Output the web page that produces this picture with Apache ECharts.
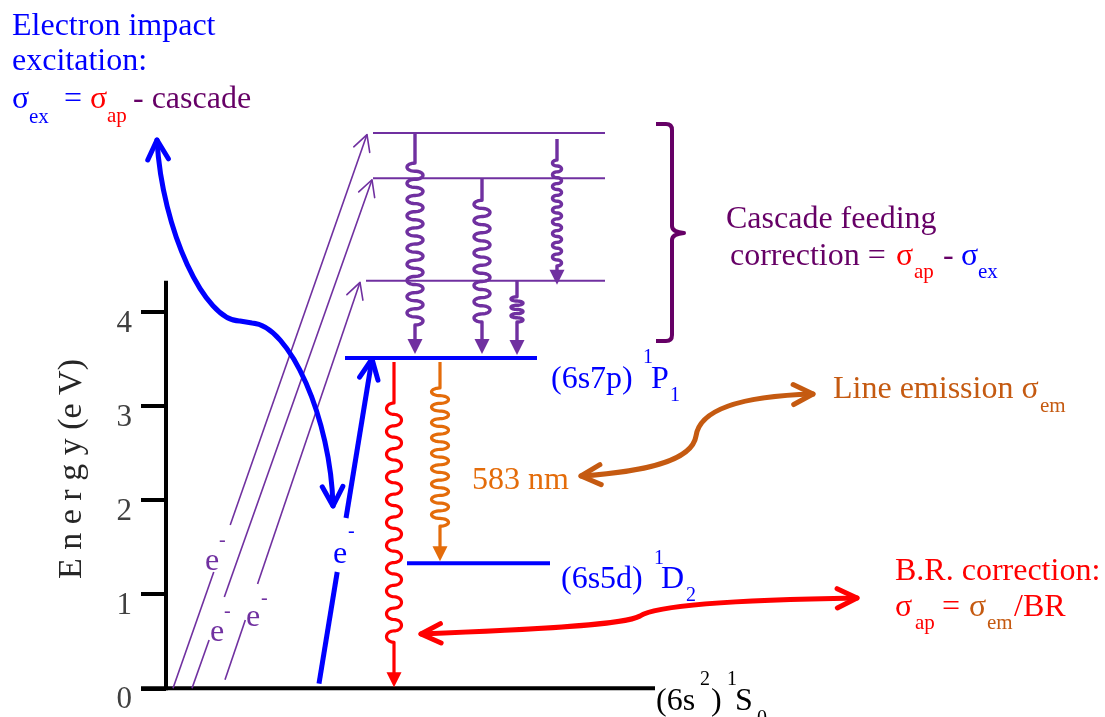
<!DOCTYPE html>
<html><head><meta charset="utf-8">
<script src="https://cdn.jsdelivr.net/npm/echarts@6/dist/echarts.min.js"></script>
<style>html,body{margin:0;padding:0;background:#fff}#c{width:1105px;height:717px}</style>
</head><body><div id="c"></div>
<script>
// ---------------- data ----------------
const yTickValues = [0, 1, 2, 3, 4];
const levelNames = ['(6s2) 1S0', '(6s5d) 1D2', '(6s7p) 1P1', 'upper C', 'upper B', 'upper A'];
const levelEnergies = [0, 1.33, 3.51, 4.33, 5.42, 5.90];
const axisTopEnergy = 4.33;
// cascade feeding transitions (level index from -> to)
const cascadeFrom = [5, 4, 3, 5];
const cascadeTo = [2, 2, 2, 3];
// line emission from (6s7p)1P1
const emissionFrom = [2, 2];
const emissionTo = [0, 1];
// electron impact excitations (target level), start energy of each arrow
const impactTo = [5, 4, 3, 2];
const impactStartE = [0, 0, 0.09, 0.05];

// ---------------- layout / style ----------------
const SERIF = '"Liberation Serif","Times New Roman",serif';
const PURPLE = '#7030A0', DPURPLE = '#660066', BLUE = '#0000FF', RED = '#FF0000', ORANGE = '#E46C0A', DORANGE = '#C55A11';
const FS = 32, SS = 21;
const levelX = [[141, 655], [407, 550], [345, 537], [366, 605], [373, 605], [373, 605]];
const levelStyle = [{c: '#000', w: 4}, {c: BLUE, w: 4}, {c: BLUE, w: 4}, {c: PURPLE, w: 2}, {c: PURPLE, w: 2}, {c: PURPLE, w: 2}];
const cascadeLayout = [
  {x: 415, gap0: 0, s1: 30, s2: 29, tipGap: 4, amp: 8, per: 16.5},
  {x: 482, gap0: 0, s1: 22, s2: 32, tipGap: 4, amp: 8, per: 16},
  {x: 517, gap0: 0, s1: 16, s2: 33, tipGap: 3, amp: 6, per: 9},
  {x: 557, gap0: 6, s1: 21, s2: 19, tipGap: -4, amp: 4.5, per: 11.5}
];
const emissionLayout = [
  {x: 394, gap0: 4, s1: 41, s2: 45, tipGap: 1, amp: 7.5, per: 23, c: RED},
  {x: 440, gap0: 4, s1: 26, s2: 35, tipGap: 2, amp: 8.5, per: 15.5, c: ORANGE}
];
const impactLayout = [
  {bx: 173, tx: 367, gap: [572, 525], c: PURPLE, w: 1.6, head: 18, ang: 28, tipOff: 1.5},
  {bx: 192, tx: 372, gap: [640, 597], c: PURPLE, w: 1.6, head: 18, ang: 28, tipOff: 1.5},
  {bx: 225, tx: 360, gap: [620, 584], c: PURPLE, w: 1.6, head: 18, ang: 28, tipOff: 1.5},
  {bx: 319, tx: 372, gap: [572, 518], c: BLUE, w: 5, head: 22, ang: 25, tipOff: 1}
];

function vHead(tip, from, len, angDeg) {
  const dx = from[0] - tip[0], dy = from[1] - tip[1];
  const d = Math.hypot(dx, dy) || 1;
  const ux = dx / d, uy = dy / d;
  const a = angDeg * Math.PI / 180;
  const r = (s) => [tip[0] + len * (ux * Math.cos(s * a) - uy * Math.sin(s * a)),
                    tip[1] + len * (ux * Math.sin(s * a) + uy * Math.cos(s * a))];
  return [r(1), tip, r(-1)];
}

// wavy (photon) arrow: alternating half-ellipse loops
function waveGroup(x, yFrom, yTip, cfg, color, width) {
  const y0 = yFrom + cfg.gap0;
  const y1 = yTip;
  const ah = 15, hw = 7.5;
  const ws = y0 + cfg.s1, we = y1 - cfg.s2;
  const L = we - ws;
  const k = Math.max(1, Math.round(2 * L / cfg.per));
  const h = L / k;
  const pts = [[x, y0], [x, ws]];
  for (let j = 0; j < k; j++) {
    const s = (j % 2 === 0) ? -1 : 1;
    const yc = ws + h * (j + 0.5);
    for (let i = 1; i <= 16; i++) {
      const th = Math.PI * i / 16;
      pts.push([x + s * cfg.amp * Math.sin(th), yc - (h / 2) * Math.cos(th)]);
    }
  }
  pts.push([x, y1 - ah + 1]);
  return {
    type: 'group', children: [
      {type: 'polyline', shape: {points: pts}, style: {stroke: color, lineWidth: width, fill: null, lineJoin: 'round'}},
      {type: 'polygon', shape: {points: [[x - hw, y1 - ah], [x + hw, y1 - ah], [x, y1]]}, style: {fill: color}}
    ]
  };
}

const levelData = levelEnergies.map((e, i) => [levelX[i][0], levelX[i][1], e, i]);
const cascadeData = cascadeFrom.map((f, i) => [cascadeLayout[i].x, levelEnergies[f], levelEnergies[cascadeTo[i]], i]);
const emissionData = emissionFrom.map((f, i) => [emissionLayout[i].x, levelEnergies[f], levelEnergies[emissionTo[i]], i]);
const impactData = impactTo.map((t, i) => [impactLayout[i].bx, impactStartE[i], impactLayout[i].tx, levelEnergies[t], i]);

// ---------------- annotations (texts) ----------------
function T(text, x, baseline, size, color) {
  return {type: 'text', x: x, y: baseline - 0.3375 * size, silent: true, z: 100,
    style: {text: text, font: size + 'px ' + SERIF, fill: color, align: 'left', verticalAlign: 'middle',
      textAlign: 'left', textVerticalAlign: 'middle'}};
}
const texts = [
  T('Electron impact', 12, 37, FS, BLUE),
  T('excitation:', 12, 72, FS, BLUE),
  T('σ', 12, 110, FS, BLUE), T('ex', 29, 125, SS, BLUE), T('=', 64, 110, FS, BLUE),
  T('σ', 90, 110, FS, RED), T('ap', 107, 124, SS, RED), T('- cascade', 133, 110, FS, DPURPLE),

  T('Cascade feeding', 726, 230, FS, DPURPLE),
  T('correction =', 730, 267, FS, DPURPLE),
  T('σ', 896, 267, FS, RED), T('ap', 914, 280, SS, RED), T('-', 943, 267, FS, DPURPLE),
  T('σ', 961, 267, FS, BLUE), T('ex', 978, 280, SS, BLUE),

  T('(6s7p)', 551, 390, FS, BLUE), T('1', 643, 364, 20, BLUE), T('P', 651, 390, FS, BLUE), T('1', 670, 402, 20, BLUE),
  T('(6s5d)', 561, 590, FS, BLUE), T('1', 654, 565, 20, BLUE), T('D', 661, 590, FS, BLUE), T('2', 686, 602, 20, BLUE),
  T('(6s', 656, 712, FS, '#000'), T('2', 700, 686, 20, '#000'), T(')', 711, 712, FS, '#000'),
  T('1', 727, 686, 20, '#000'), T('S', 735, 712, FS, '#000'), T('0', 757, 725, 20, '#000'),

  T('583 nm', 472, 491, FS, ORANGE),
  T('Line emission σ', 833, 400, FS, DORANGE), T('em', 1040, 414, SS, DORANGE),

  T('B.R. correction:', 895, 582, FS, RED),
  T('σ', 895, 618, FS, RED), T('ap', 915, 631, SS, RED), T('=', 942, 618, FS, RED),
  T('σ', 969, 618, FS, DORANGE), T('em', 987, 631, SS, DORANGE), T('/BR', 1014, 618, FS, RED),

  T('e', 205, 572, FS, PURPLE), T('-', 219, 547, 20, PURPLE),
  T('e', 210, 643, FS, PURPLE), T('-', 224, 618, 20, PURPLE),
  T('e', 246, 628, FS, PURPLE), T('-', 261, 605, 20, PURPLE),
  T('e', 333, 565, FS, BLUE), T('-', 348, 538, 20, BLUE),
  {type: 'text', x: 72, y: 469, rotation: Math.PI / 2, silent: true,
    style: {text: 'E n e r g y (e V)', font: '34px ' + SERIF, fill: '#262626', align: 'center', verticalAlign: 'middle',
      textAlign: 'center', textVerticalAlign: 'middle'}}
];

// curved annotation arrows (pixel layout), drawn by a custom series
function curveArrow(d, startTip, startCtl, endTip, endCtl, color, w, len, ang) {
  const st = {stroke: color, lineWidth: w, fill: null, lineCap: 'round', lineJoin: 'round'};
  return [
    {type: 'path', shape: {pathData: d}, style: st},
    {type: 'polyline', shape: {points: vHead(startTip, startCtl, len, ang)}, style: st},
    {type: 'polyline', shape: {points: vHead(endTip, endCtl, len, ang)}, style: st}
  ];
}
const annotationShapes = [].concat(
  curveArrow('M157,140 C162,230 205,322 240,321 L252,323 C290,325 331,420 333,506', [157, 140], [162, 230], [333, 506], [331, 420], BLUE, 5, 22, 28),
  curveArrow('M581,476 C640,472 692,462 696,436 C700,408 745,396 813,394', [581, 476], [640, 472], [813, 394], [745, 396], DORANGE, 5, 22, 27),
  curveArrow('M421,634 C530,630 625,625 640,616 C655,606 720,600 857,598', [421, 634], [530, 630], [857, 598], [720, 600], RED, 5, 22, 26),
  [{type: 'path', shape: {pathData: 'M656,124 L666,124 Q672,124 672,130 L672,226 Q672,232 684,233 Q672,234 672,240 L672,335 Q672,341 666,341 L656,341'},
    style: {stroke: DPURPLE, lineWidth: 4, fill: null, lineJoin: 'round'}}]
);

const chart = echarts.init(document.getElementById('c'), null, {renderer: 'canvas'});
chart.setOption({
  animation: false,
  backgroundColor: '#fff',
  grid: {left: 166, right: 0, top: 123.7, bottom: 28.7, containLabel: false, outerBoundsMode: 'none'},
  xAxis: {type: 'value', min: 166, max: 1105, show: false},
  yAxis: {
    type: 'value', min: 0, max: 6,
    axisLine: {show: false}, splitLine: {show: false},
    axisTick: {show: true, customValues: yTickValues, length: 25, lineStyle: {color: '#000', width: 4}},
    axisLabel: {customValues: yTickValues, margin: 34, fontSize: 31, fontFamily: SERIF, color: '#404040', verticalAlign: 'top', lineHeight: 23}
  },
  series: [
    { // energy axis line
      type: 'custom', clip: false, silent: true, z: 3,
      data: [[166, 0, axisTopEnergy]], encode: {x: 0, y: [1, 2]},
      renderItem: (p, api) => {
        const a = api.coord([api.value(0), api.value(1)]), b = api.coord([api.value(0), api.value(2)]);
        return {type: 'line', shape: {x1: a[0], y1: a[1] + 2, x2: b[0], y2: b[1]}, style: {stroke: '#000', lineWidth: 4}};
      }
    },
    { // energy levels
      type: 'custom', clip: false, silent: true, z: 3,
      data: levelData, encode: {x: [0, 1], y: 2},
      renderItem: (p, api) => {
        const i = api.value(3);
        const a = api.coord([api.value(0), api.value(2)]), b = api.coord([api.value(1), api.value(2)]);
        return {type: 'line', shape: {x1: a[0], y1: a[1], x2: b[0], y2: b[1]}, style: {stroke: levelStyle[i].c, lineWidth: levelStyle[i].w}};
      }
    },
    { // cascade transitions
      type: 'custom', clip: false, silent: true, z: 4,
      data: cascadeData, encode: {x: 0, y: [1, 2]},
      renderItem: (p, api) => {
        const cfg = cascadeLayout[api.value(3)];
        const a = api.coord([api.value(0), api.value(1)]), b = api.coord([api.value(0), api.value(2)]);
        return waveGroup(a[0], a[1], b[1] - cfg.tipGap, cfg, PURPLE, 3.4);
      }
    },
    { // emission lines
      type: 'custom', clip: false, silent: true, z: 4,
      data: emissionData, encode: {x: 0, y: [1, 2]},
      renderItem: (p, api) => {
        const cfg = emissionLayout[api.value(3)];
        const a = api.coord([api.value(0), api.value(1)]), b = api.coord([api.value(0), api.value(2)]);
        return waveGroup(a[0], a[1], b[1] - cfg.tipGap, cfg, cfg.c, 3.2);
      }
    },
    { // electron impact excitation arrows
      type: 'custom', clip: false, silent: true, z: 4,
      data: impactData, encode: {x: [0, 2], y: [1, 3]},
      renderItem: (p, api) => {
        const cfg = impactLayout[api.value(4)];
        const b = api.coord([api.value(0), api.value(1)]);
        const t = api.coord([api.value(2), api.value(3)]);
        t[1] += cfg.tipOff;
        const at = (y) => [b[0] + (t[0] - b[0]) * (b[1] - y) / (b[1] - t[1]), y];
        const st = {stroke: cfg.c, lineWidth: cfg.w, fill: null, lineCap: 'butt', lineJoin: 'round'};
        return {type: 'group', children: [
          {type: 'polyline', shape: {points: [b, at(cfg.gap[0])]}, style: st},
          {type: 'polyline', shape: {points: [at(cfg.gap[1]), t]}, style: st},
          {type: 'polyline', shape: {points: vHead(t, b, cfg.head, cfg.ang)}, style: Object.assign({}, st, {lineCap: 'round'})}
        ]};
      }
    },
    { // annotation arrows and bracket
      type: 'custom', clip: false, silent: true, z: 5,
      coordinateSystem: 'none',
      data: [[0]],
      renderItem: () => ({type: 'group', children: annotationShapes})
    }
  ],
  graphic: {elements: texts}
});
</script>
</body></html>
